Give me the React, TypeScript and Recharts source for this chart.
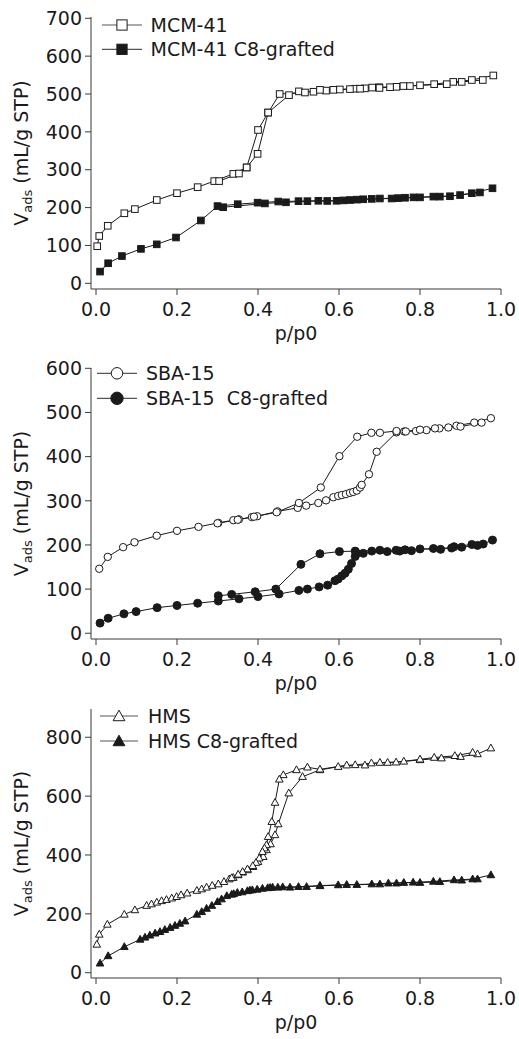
import React from 'react';
import { LineChart, Line, XAxis, YAxis, Legend } from 'recharts';

// ---------- data ----------
const xTicks = [0, 0.2, 0.4, 0.6, 0.8, 1.0];
const mcmTicks = [0, 100, 200, 300, 400, 500, 600, 700];
const sbaTicks = [0, 100, 200, 300, 400, 500, 600];
const hmsTicks = [0, 200, 400, 600, 800];

const mcmNames = ['MCM-41', 'MCM-41 C8-grafted'];
const sbaNames = ['SBA-15', 'SBA-15  C8-grafted'];
const hmsNames = ['HMS', 'HMS C8-grafted'];

// MCM-41
const mcmAdsP = [0.003, 0.008, 0.029, 0.07, 0.096, 0.15, 0.2, 0.251, 0.292, 0.339, 0.372, 0.399, 0.425, 0.4765, 0.501, 0.537, 0.568, 0.602, 0.64, 0.664, 0.699, 0.742, 0.775, 0.835, 0.882, 0.928, 0.981];
const mcmAdsV = [98, 125, 152, 185, 196, 220, 238, 254, 270, 289, 306, 342, 451, 497, 507, 506, 509, 512, 514, 515, 518, 519, 521, 526, 532, 537, 549];
const mcmDesP = [0.955, 0.903, 0.866, 0.8, 0.759, 0.726, 0.7, 0.682, 0.652, 0.627, 0.586, 0.553, 0.516, 0.4535, 0.425, 0.4, 0.372, 0.353, 0.304];
const mcmDesV = [537, 532, 526, 523, 521, 518, 516, 517, 514, 513, 511, 511, 504, 500, 451, 405, 306, 290, 270];
const mcmC8AdsP = [0.01, 0.03, 0.064, 0.111, 0.15, 0.1975, 0.259, 0.3, 0.35, 0.399, 0.45, 0.5, 0.549, 0.594, 0.627, 0.66, 0.701, 0.746, 0.784, 0.833, 0.874, 0.928, 0.979];
const mcmC8AdsV = [31, 53, 72, 91, 103, 121, 166, 204, 209, 213, 216, 217, 218, 218, 220, 222, 224, 225, 227, 229, 230, 238, 251];
const mcmC8DesP = [0.948, 0.899, 0.849, 0.8, 0.763, 0.73, 0.681, 0.644, 0.611, 0.571, 0.522, 0.469, 0.417, 0.314];
const mcmC8DesV = [240, 233, 229, 227, 226, 224, 223, 221, 219, 217.5, 217, 214, 211, 201];

// SBA-15
const sbaAdsP = [0.008, 0.029, 0.067, 0.095, 0.15, 0.2, 0.253, 0.302, 0.339, 0.353, 0.385, 0.398, 0.448, 0.498, 0.519, 0.549, 0.568, 0.586, 0.598, 0.607, 0.617, 0.627, 0.635, 0.644, 0.652, 0.656, 0.674, 0.693, 0.742, 0.761, 0.79, 0.816, 0.848, 0.89, 0.934, 0.975];
const sbaAdsV = [146, 173, 195, 206, 221, 232, 241, 250, 256, 258, 263, 265, 276, 284, 289, 295, 301, 308, 311, 313, 315, 318, 320, 323, 330, 336, 360, 411, 455, 457, 458, 460, 464, 470, 477, 487];
const sbaDesP = [0.952, 0.9, 0.87, 0.837, 0.8, 0.765, 0.742, 0.701, 0.68, 0.645, 0.601, 0.555, 0.501, 0.446, 0.39, 0.35, 0.3];
const sbaDesV = [477, 468, 466, 464, 461, 457, 458, 454, 454, 445, 401, 330, 295, 274, 264, 257, 249];
const sbaC8AdsP = [0.01, 0.03, 0.069, 0.099, 0.151, 0.2, 0.251, 0.302, 0.353, 0.4, 0.452, 0.501, 0.522, 0.551, 0.572, 0.59, 0.598, 0.607, 0.615, 0.623, 0.631, 0.64, 0.644, 0.66, 0.681, 0.719, 0.75, 0.779, 0.8, 0.851, 0.884, 0.928, 0.956, 0.979];
const sbaC8AdsV = [23, 34, 44, 49, 58, 63, 68, 73, 78, 83, 89, 97, 100, 105, 109, 119, 123, 130, 136, 145, 158, 174, 181, 181, 186, 185, 186, 187, 191, 190, 196, 201, 202, 211];
const sbaC8DesP = [0.942, 0.903, 0.878, 0.833, 0.763, 0.741, 0.701, 0.64, 0.601, 0.553, 0.506, 0.444, 0.393, 0.335, 0.302];
const sbaC8DesV = [199, 195, 193, 192, 189, 188, 188, 186, 185, 180, 156, 100, 94, 88, 85];

// HMS
const hmsAdsP = [0.002, 0.008, 0.028, 0.07, 0.096, 0.125, 0.137, 0.15, 0.162, 0.174, 0.187, 0.199, 0.21, 0.225, 0.249, 0.261, 0.273, 0.287, 0.302, 0.316, 0.329, 0.339, 0.351, 0.362, 0.374, 0.388, 0.4, 0.413, 0.421, 0.431, 0.442, 0.45, 0.476, 0.51, 0.553, 0.598, 0.64, 0.68, 0.72, 0.76, 0.8, 0.853, 0.9, 0.942, 0.975];
const hmsAdsV = [96, 130, 164, 198, 213, 228, 233, 239, 244, 248, 253, 258, 264, 270, 279, 284, 290, 296, 301, 309, 318, 323, 332, 341, 349, 360, 377, 394, 417, 437, 468, 505, 610, 666, 689, 700, 706, 712, 714, 718, 723, 729, 734, 743, 763];
const hmsDesP = [0.93, 0.886, 0.835, 0.8, 0.741, 0.701, 0.664, 0.619, 0.553, 0.522, 0.495, 0.4625, 0.4527, 0.442, 0.434, 0.425, 0.421, 0.416, 0.411, 0.403, 0.395, 0.387, 0.374, 0.362, 0.351, 0.335];
const hmsDesV = [748, 737, 731, 725, 715, 714, 705, 705, 691, 698, 689, 672, 657, 578, 513, 462, 434, 423, 411, 389, 374, 363, 352, 343, 334, 322];
const hmsC8AdsP = [0.01, 0.03, 0.07, 0.109, 0.121, 0.133, 0.146, 0.158, 0.17, 0.183, 0.195, 0.207, 0.22, 0.249, 0.261, 0.273, 0.286, 0.3, 0.31, 0.323, 0.335, 0.349, 0.361, 0.374, 0.386, 0.398, 0.411, 0.424, 0.436, 0.449, 0.461, 0.5, 0.553, 0.598, 0.644, 0.701, 0.742, 0.783, 0.833, 0.884, 0.93, 0.975];
const hmsC8AdsV = [32, 57, 88, 113, 120, 127, 134, 139, 146, 153, 160, 167, 175, 198, 207, 218, 228, 241, 250, 261, 266, 272, 274, 278, 281, 283, 286, 288, 290, 290, 291, 292, 296, 298, 299, 301, 304, 307, 310, 315, 318, 332];
const hmsC8DesP = [0.942, 0.903, 0.849, 0.8, 0.76, 0.722, 0.681, 0.619, 0.553, 0.52, 0.479, 0.43, 0.38, 0.34];
const hmsC8DesV = [318, 314, 309, 306, 306, 304, 301, 299, 295, 292, 290, 289, 280, 268];

// ---------- helpers ----------
const INK = '#1a1a1a';
const AXIS = '#3a3a3a';
const FONT = '"DejaVu Sans", "Liberation Sans", Arial, sans-serif';
const FS = 19;

const zip = (p: number[], v: number[]) => p.map((x, i) => ({ p: x, v: v[i] }));

type ShapeKind = 'square' | 'circle' | 'triangle';

function MarkerShape({ cx, cy, shape, filled, scale = 1 }: { cx: number; cy: number; shape: ShapeKind; filled: boolean; scale?: number }) {
  const fill = filled ? INK : '#fff';
  if (shape === 'square') {
    const s = 6.6 * scale;
    return <rect x={cx - s / 2} y={cy - s / 2} width={s} height={s} fill={fill} stroke={INK} strokeWidth={1} />;
  }
  if (shape === 'circle') {
    const r = (filled ? 4 : 3.7) * scale;
    return <circle cx={cx} cy={cy} r={r} fill={fill} stroke={INK} strokeWidth={1} />;
  }
  const w = 7.6 * scale;
  const h = 6.8 * scale;
  const pts = `${cx},${cy - h * 0.6} ${cx - w / 2},${cy + h * 0.4} ${cx + w / 2},${cy + h * 0.4}`;
  return <polygon points={pts} fill={fill} stroke={INK} strokeWidth={1} strokeLinejoin="miter" />;
}

type Series = { name: string; shape: ShapeKind; filled: boolean; branches: { p: number; v: number }[][] };

type PanelCfg = {
  height: number;
  top: number;
  plotH: number;
  yDomain: [number, number];
  yTicks: number[];
  series: Series[];
  legendY: number[];
  legendX0: number;
  legendX1: number;
  legendText: number;
};

const panels: PanelCfg[] = [
  {
    height: 345, top: 17, plotH: 272, yDomain: [-15, 703.4], yTicks: mcmTicks,
    series: [
      { name: mcmNames[0], shape: 'square', filled: false, branches: [zip(mcmAdsP, mcmAdsV), zip(mcmDesP, mcmDesV)] },
      { name: mcmNames[1], shape: 'square', filled: true, branches: [zip(mcmC8AdsP, mcmC8AdsV), zip(mcmC8DesP, mcmC8DesV)] },
    ],
    legendY: [25, 49.3], legendX0: 102, legendX1: 142, legendText: 150.5,
  },
  {
    height: 350, top: 23, plotH: 271, yDomain: [-13, 600.7], yTicks: sbaTicks,
    series: [
      { name: sbaNames[0], shape: 'circle', filled: false, branches: [zip(sbaAdsP, sbaAdsV), zip(sbaDesP, sbaDesV)] },
      { name: sbaNames[1], shape: 'circle', filled: true, branches: [zip(sbaC8AdsP, sbaC8AdsV), zip(sbaC8DesP, sbaC8DesV)] },
    ],
    legendY: [28.3, 53.3], legendX0: 97, legendX1: 137, legendText: 146,
  },
  {
    height: 344, top: 14, plotH: 269, yDomain: [-18, 896], yTicks: hmsTicks,
    series: [
      { name: hmsNames[0], shape: 'triangle', filled: false, branches: [zip(hmsAdsP, hmsAdsV), zip(hmsDesP, hmsDesV)] },
      { name: hmsNames[1], shape: 'triangle', filled: true, branches: [zip(hmsC8AdsP, hmsC8AdsV), zip(hmsC8DesP, hmsC8DesV)] },
    ],
    legendY: [21, 46], legendX0: 100, legendX1: 138, legendText: 148,
  },
];

const W = 519;
const LEFT = 91;
const RIGHT = 18;

function Panel({ cfg }: { cfg: PanelCfg }) {
  const xAxisH = cfg.height - cfg.top - cfg.plotH;
  const legendContent = () => (
    <svg width={W} height={70} style={{ display: 'block' }}>
      {cfg.series.map((s, i) => {
        const y = cfg.legendY[i];
        const mid = (cfg.legendX0 + cfg.legendX1) / 2;
        return (
          <g key={s.name}>
            <line x1={cfg.legendX0} x2={cfg.legendX1} y1={y} y2={y} stroke="#555" strokeWidth={1.2} />
            <MarkerShape cx={mid} cy={s.shape === 'triangle' ? y + 0.5 : y} shape={s.shape} filled={s.filled} scale={1.55} />
            <text x={cfg.legendText} y={y + 7} fontFamily={FONT} fontSize={FS} fill={INK} style={{ whiteSpace: 'pre' }} xmlSpace="preserve">
              {s.name}
            </text>
          </g>
        );
      })}
    </svg>
  );

  return (
    <LineChart width={W} height={cfg.height} margin={{ top: cfg.top, right: RIGHT, bottom: 0, left: 0 }}>
      <XAxis
        dataKey="p"
        type="number"
        domain={[-5 / 405, 1]}
        allowDataOverflow
        ticks={xTicks}
        tickFormatter={(t: number) => t.toFixed(1)}
        height={xAxisH}
        stroke={AXIS}
        tickSize={6}
        tickMargin={8}
        tick={{ fill: INK, fontSize: FS, fontFamily: FONT }}
        label={{
          content: (props: any) => {
            const vb = props.viewBox || { x: LEFT, y: cfg.top + cfg.plotH, width: W - LEFT - RIGHT };
            return (
              <text x={vb.x + vb.width / 2} y={vb.y + 51} textAnchor="middle" fontFamily={FONT} fontSize={FS} fill={INK}>
                p/p0
              </text>
            );
          },
        }}
      />
      <YAxis
        type="number"
        domain={cfg.yDomain}
        allowDataOverflow
        ticks={cfg.yTicks}
        width={LEFT}
        stroke={AXIS}
        tickSize={6}
        tickMargin={3}
        tick={{ fill: INK, fontSize: FS, fontFamily: FONT }}
        label={{
          content: (props: any) => {
            const vb = props.viewBox || { y: cfg.top, height: cfg.plotH };
            const cy = vb.y + vb.height / 2;
            return (
              <text transform={`translate(28, ${cy}) rotate(-90)`} textAnchor="middle" fontFamily={FONT} fontSize={FS} fill={INK}>
                V<tspan fontSize={13} dy={4}>ads</tspan>
                <tspan dy={-4}> (mL/g STP)</tspan>
              </text>
            );
          },
        }}
      />
      <Legend
        layout="vertical"
        align="center"
        verticalAlign="middle"
        content={legendContent}
        wrapperStyle={{ position: 'absolute', left: 0, top: 0, width: W, height: 70, margin: 0, padding: 0 }}
      />
      {cfg.series.flatMap((s, si) =>
        s.branches.map((b, bi) => (
          <Line
            key={`${si}-${bi}`}
            data={b}
            dataKey="v"
            name={s.name}
            type="linear"
            stroke={INK}
            strokeWidth={1}
            isAnimationActive={false}
            legendType="none"
            dot={(d: any) => (
              <MarkerShape key={`dot-${si}-${bi}-${d.index}`} cx={d.cx} cy={d.cy} shape={s.shape} filled={s.filled} />
            )}
            activeDot={false}
          />
        ))
      )}
    </LineChart>
  );
}

export default function App() {
  return (
    <div style={{ position: 'absolute', left: 0, top: 0, width: W, background: '#fff' }}>
      {panels.map((cfg, i) => (
        <Panel key={i} cfg={cfg} />
      ))}
    </div>
  );
}
